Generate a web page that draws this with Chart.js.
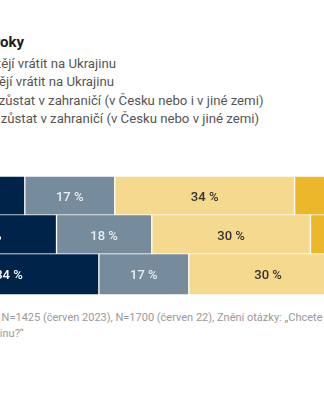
<!DOCTYPE html>
<html lang="cs">
<head>
  <meta charset="UTF-8" />
  <title>Plány na návrat na Ukrajinu</title>
  <script src="https://cdn.jsdelivr.net/npm/chart.js"></script>
  <style>
    html, body {
      margin: 0;
      padding: 0;
      background: #fff;
      width: 324px;
      height: 400px;
      overflow: hidden;
      position: relative;
      font-family: Roboto, "Noto Sans", sans-serif;
    }
    .title {
      position: absolute;
      right: 300px; /* title ends at x = 24 */
      top: 33px;
      font-size: 15px;
      font-weight: 700;
      line-height: 18px;
      color: #1b1b1b;
      white-space: nowrap;
    }
    .legend {
      position: absolute;
      left: -90px;
      top: 55px;
      font-size: 13.2px;
      line-height: 18.3px;
      color: #555;
    }
    .legend div {
      white-space: nowrap;
    }
    .legend .box {
      display: inline-block;
      width: 12px;
      height: 12px;
      margin-right: 6px;
      vertical-align: -1px;
    }
    #chart {
      position: absolute;
      left: -191px;
      top: 166px;
    }
    .note {
      position: absolute;
      left: -29px;
      top: 310px;
      font-size: 11px;
      line-height: 16px;
      color: #999;
      white-space: nowrap;
    }
    .note .l2 {
      margin-left: 4px;
    }
  </style>
</head>
<body>
  <div class="title">Plány uprchlíků za poslední dva roky</div>
  <div class="legend" id="legend"></div>
  <canvas id="chart" width="639" height="139"></canvas>
  <div class="note">Zdroj: N=1425 (červen 2023), N=1700 (červen 22), Znění otázky: „Chcete se v budoucnu vrátit na<br><span class="l2">Ukrajinu?“</span></div>

  <script>
    // survey rounds (top to bottom)
    const rounds = ['červen 2023', 'prosinec 2022', 'červen 2022'];

    // answers in %
    const urciteVratit = [20, 26, 34];
    const spiseVratit  = [17, 18, 17];
    const spiseZustat  = [34, 30, 30];
    const urciteZustat = [29, 26, 19];

    const seriesNames = [
      'Určitě se chtějí vrátit na Ukrajinu',
      'Spíše se chtějí vrátit na Ukrajinu',
      'Spíše chtějí zůstat v zahraničí (v Česku nebo i v jiné zemi)',
      'Určitě chtějí zůstat v zahraničí (v Česku nebo v jiné zemi)'
    ];

    const fills = ['#002349', '#768b9b', '#f5d98f', '#ecb82b'];
    const labelColors = ['#ffffff', '#e9eef2', '#333333', '#333333'];

    const values = [urciteVratit, spiseVratit, spiseZustat, urciteZustat];

    // html legend
    let legendEl = document.getElementById('legend');
    seriesNames.forEach((name, i) => {
      let row = document.createElement('div');
      let box = document.createElement('span');
      box.className = 'box';
      box.style.background = fills[i];
      row.appendChild(box);
      row.appendChild(document.createTextNode(name));
      legendEl.appendChild(row);
    });

    // draws "xx %" in the middle of each segment
    const segmentLabels = {
      id: 'segmentLabels',
      afterDatasetsDraw(chart) {
        let ctx = chart.ctx;
        ctx.save();
        ctx.font = '500 13px Roboto, "Noto Sans", sans-serif';
        ctx.textAlign = 'center';
        ctx.textBaseline = 'middle';
        chart.data.datasets.forEach((ds, i) => {
          chart.getDatasetMeta(i).data.forEach((bar, j) => {
            ctx.fillStyle = labelColors[i];
            ctx.fillText(ds.data[j] + ' %', (bar.x + bar.base) / 2, bar.y + 1);
          });
        });
        ctx.restore();
      }
    };

    new Chart(document.getElementById('chart'), {
      type: 'bar',
      data: {
        labels: rounds,
        datasets: values.map((v, i) => ({
          label: seriesNames[i],
          data: v,
          backgroundColor: fills[i],
          borderColor: '#ffffff',
          borderWidth: 1,
          borderSkipped: false,
          barThickness: 42
        }))
      },
      options: {
        indexAxis: 'y',
        responsive: false,
        animation: false,
        layout: { padding: 0 },
        scales: {
          x: {
            stacked: true,
            min: 0,
            max: 100,
            display: false
          },
          y: {
            stacked: true,
            grid: { display: false },
            border: { display: false },
            ticks: { color: '#333', font: { size: 13 } },
            afterFit(scale) { scale.width = 110; }
          }
        },
        plugins: {
          legend: { display: false },
          tooltip: { enabled: false }
        }
      },
      plugins: [segmentLabels]
    });
  </script>
</body>
</html>
